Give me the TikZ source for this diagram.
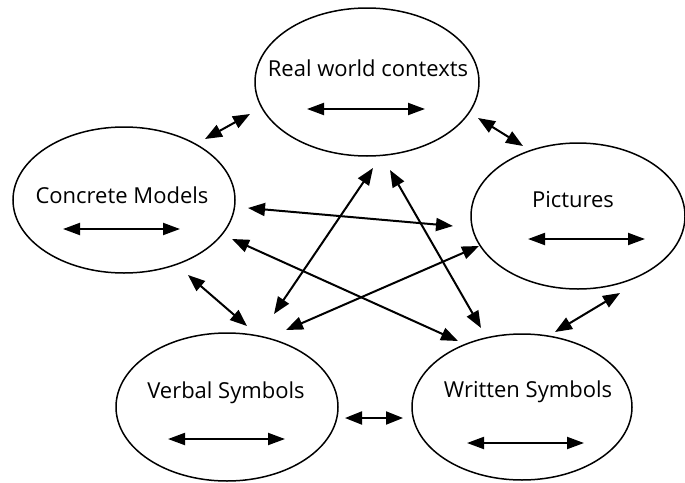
\documentclass[tikz,border=0pt]{standalone}
\usepackage{fontspec}
\setmainfont{Open Sans}
\usetikzlibrary{shapes.geometric,arrows.meta,calc}
\begin{document}
\begin{tikzpicture}[x=1pt,y=-1pt,
  oval/.style={draw,ellipse,line width=1.5pt,inner sep=0pt},
  lbl/.style={font=\fontsize{22}{26}\selectfont,inner sep=0pt,anchor=center},
  link/.style={line width=2pt,{Triangle[length=17pt,width=13pt]}-{Triangle[length=17pt,width=13pt]}},
  inner/.style={line width=2pt,{Triangle[length=17pt,width=12pt]}-{Triangle[length=17pt,width=12pt]}}]
\useasboundingbox (0,0) rectangle (685,482);
% ellipses
\node[oval,minimum width=224pt,minimum height=148pt] (real) at (367,82) {};
\node[oval,minimum width=222pt,minimum height=146pt] (conc) at (124,200) {};
\node[oval,minimum width=214pt,minimum height=146pt] (pict) at (578,216) {};
\node[oval,minimum width=222pt,minimum height=148pt] (verb) at (227,407) {};
\node[oval,minimum width=220pt,minimum height=146pt] (writ) at (522,407) {};
% labels
\node[lbl] (realT) at (368,68) {Real world contexts};
\node[lbl] (concT) at (122,195) {Concrete Models};
\node[lbl] (pictT) at (573,200) {Pictures};
\node[lbl] (verbT) at (226,393) {Verbal Symbols};
\node[lbl] (writT) at (528,392) {Written Symbols};
% inner arrows
\coordinate (realL) at (307,109); \coordinate (realR) at (425,109);
\coordinate (concL) at (63,229);  \coordinate (concR) at (180,229);
\coordinate (pictL) at (528,239); \coordinate (pictR) at (645,239);
\coordinate (verbL) at (168,439); \coordinate (verbR) at (285,439);
\coordinate (writL) at (467,443); \coordinate (writR) at (584,443);
\draw[inner] (realL) -- (realR);
\draw[inner] (concL) -- (concR);
\draw[inner] (pictL) -- (pictR);
\draw[inner] (verbL) -- (verbR);
\draw[inner] (writL) -- (writR);
% connector ends
\coordinate (rc1) at (205,139); \coordinate (rc2) at (250,114);
\coordinate (rp1) at (478,118); \coordinate (rp2) at (523,146);
\coordinate (cp1) at (248,208); \coordinate (cp2) at (453,226);
\coordinate (cw1) at (232,239); \coordinate (cw2) at (458,341);
\coordinate (rw1) at (390,170); \coordinate (rw2) at (481,328);
\coordinate (rv1) at (373,168); \coordinate (rv2) at (274,314);
\coordinate (pv1) at (479,246); \coordinate (pv2) at (286,330);
\coordinate (cv1) at (188,275); \coordinate (cv2) at (247,326);
\coordinate (vw1) at (345,418); \coordinate (vw2) at (403,418);
\coordinate (pw1) at (620,293); \coordinate (pw2) at (555,332);
\draw[link] (rc1) -- (rc2);
\draw[link] (rp1) -- (rp2);
\draw[link] (cp1) -- (cp2);
\draw[link] (cw1) -- (cw2);
\draw[link] (rw1) -- (rw2);
\draw[link] (rv1) -- (rv2);
\draw[link] (pv1) -- (pv2);
\draw[link] (cv1) -- (cv2);
\draw[link] (vw1) -- (vw2);
\draw[link] (pw1) -- (pw2);
\end{tikzpicture}
\end{document}
